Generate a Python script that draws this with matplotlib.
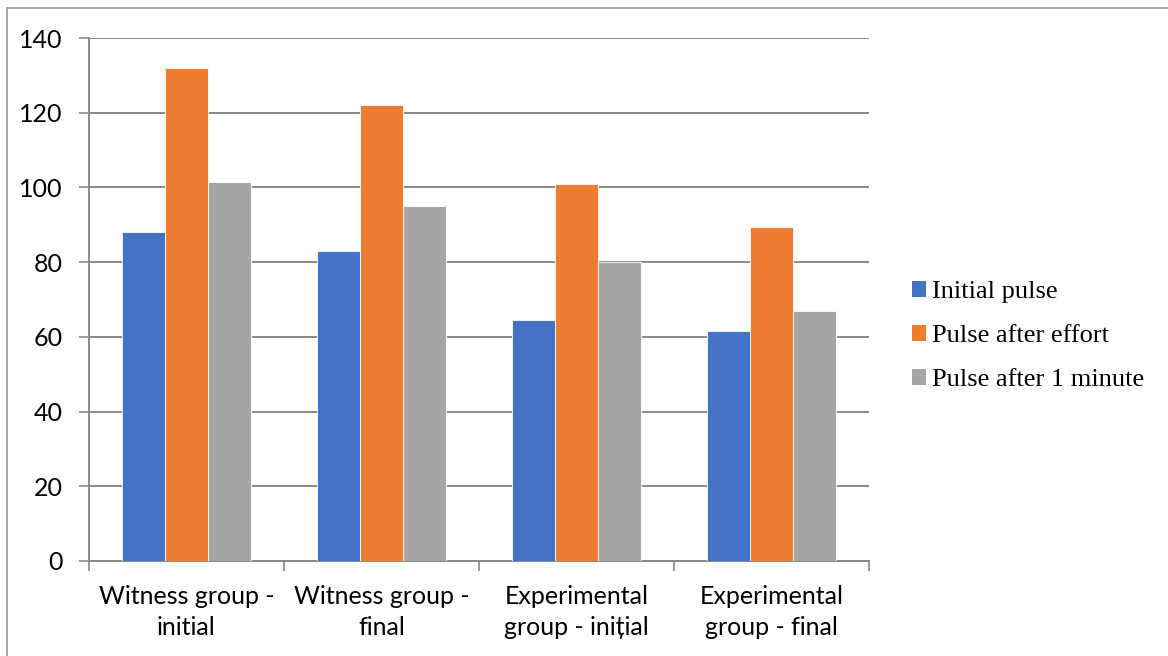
import matplotlib
matplotlib.use("Agg")
import matplotlib.pyplot as plt
import numpy as np
from matplotlib.lines import Line2D
from matplotlib.patches import Patch

categories = ["Witness group -\ninitial", "Witness group -\nfinal",
              "Experimental\ngroup - ini\u021bial", "Experimental\ngroup - final"]
series_names = ["Initial pulse", "Pulse after effort", "Pulse after 1 minute"]
initial_pulse = [88, 83, 64.5, 61.5]
pulse_after_effort = [132, 122, 101, 89.5]
pulse_after_minute = [101.5, 95, 80, 67]
colors = ["#4472C4", "#ED7D31", "#A5A5A5"]
y_ticks = [0, 20, 40, 60, 80, 100, 120, 140]

grid_color = "#898989"

fig = plt.figure(figsize=(11.68, 6.56), dpi=100)
ax = fig.add_axes([89 / 1168, 95 / 656, 780 / 1168, 523 / 656])

x = np.arange(len(categories))
width = 0.22
for i, (vals, col) in enumerate(zip([initial_pulse, pulse_after_effort, pulse_after_minute], colors)):
    ax.bar(x + (i - 1) * width, vals, width, color=col, edgecolor="white",
           linewidth=0.6, zorder=3)

ax.set_xlim(-0.5, len(categories) - 0.5)
ax.set_ylim(0, 140)
ax.set_yticks(y_ticks)
ax.set_yticklabels([str(t) for t in y_ticks], fontsize=18, family="Lato")
ax.yaxis.grid(True, color=grid_color, linewidth=1.4, zorder=0)
ax.set_axisbelow(True)

ax.set_xticks(np.arange(len(categories) + 1) - 0.5)
ax.set_xticklabels([""] * (len(categories) + 1))
ax.set_xticks(x, minor=True)
ax.set_xticklabels(categories, minor=True, fontsize=18, family="Lato",
                   linespacing=1.45)
ax.tick_params(axis="x", which="minor", length=0, pad=17)
ax.tick_params(axis="x", which="major", length=7, color=grid_color, width=1.2)
ax.tick_params(axis="y", length=7, color=grid_color, width=1.2, pad=12)

for side in ["top", "right"]:
    ax.spines[side].set_visible(False)
for side in ["left", "bottom"]:
    ax.spines[side].set_color(grid_color)
    ax.spines[side].set_linewidth(1.4)

handles = [Patch(facecolor=c, edgecolor="none") for c in colors]
leg = fig.legend(handles, series_names, loc="center left",
                 bbox_to_anchor=(888 / 1168, 1 - 336 / 656),
                 frameon=False, prop={"family": "Liberation Serif", "size": 19},
                 handlelength=0.55, handleheight=0.55, handletextpad=0.2,
                 labelspacing=0.82)

# outer chart frame
fig.add_artist(Line2D([7 / 1168, 7 / 1168], [0, 1 - 8 / 656], transform=fig.transFigure,
                      color="#9a9a9a", linewidth=1.2))
fig.add_artist(Line2D([7 / 1168, 1], [1 - 8 / 656, 1 - 8 / 656], transform=fig.transFigure,
                      color="#9a9a9a", linewidth=1.2))

fig.savefig("out.png", dpi=100, facecolor="white")
